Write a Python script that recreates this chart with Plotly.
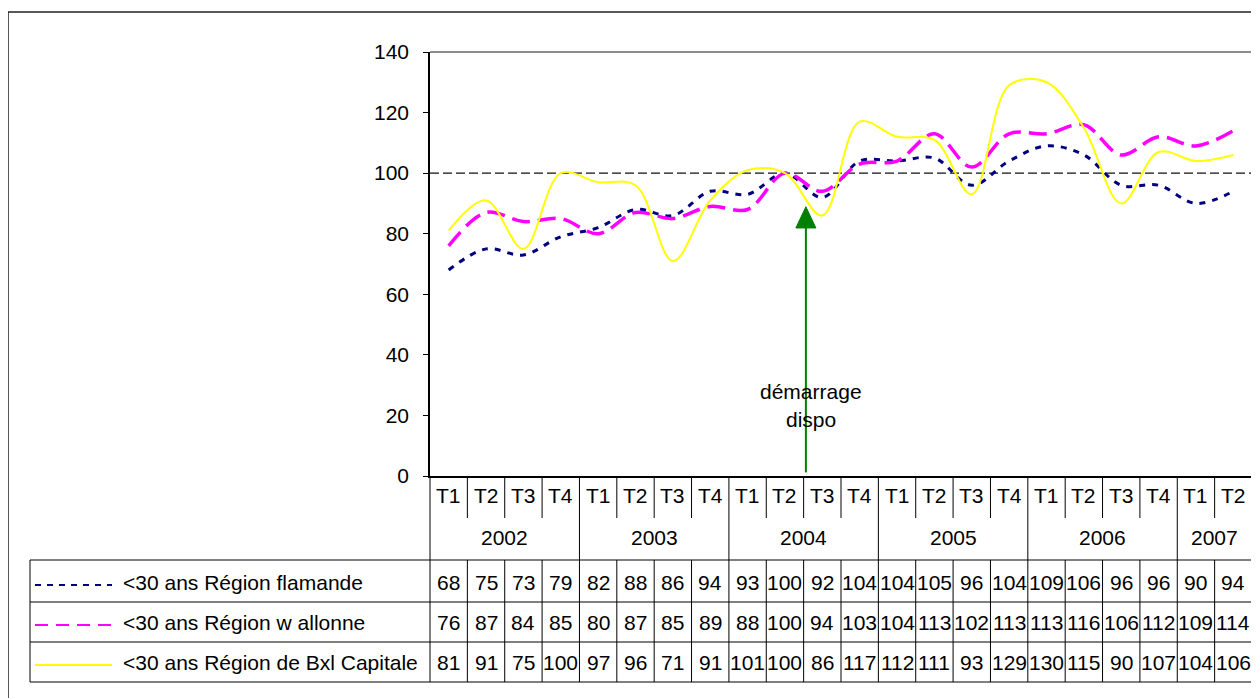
import plotly.graph_objects as go

quarters = ["T1", "T2", "T3", "T4"] * 5 + ["T1", "T2"]
years = ["2002", "2003", "2004", "2005", "2006", "2007"]
year_spans = [4, 4, 4, 4, 4, 2]

flamande = [68, 75, 73, 79, 82, 88, 86, 94, 93, 100, 92, 104, 104, 105, 96, 104, 109, 106, 96, 96, 90, 94]
wallonne = [76, 87, 84, 85, 80, 87, 85, 89, 88, 100, 94, 103, 104, 113, 102, 113, 113, 116, 106, 112, 109, 114]
bxl = [81, 91, 75, 100, 97, 96, 71, 91, 101, 100, 86, 117, 112, 111, 93, 129, 130, 115, 90, 107, 104, 106]

series_names = ["<30 ans Région flamande", "<30 ans Région w allonne", "<30 ans Région de Bxl Capitale"]
series_values = [flamande, wallonne, bxl]
series_colors = ["#000080", "#FF00FF", "#FFFF00"]
series_dash = ["6px,7px", "18px,8px", "solid"]
series_width = [3, 3.5, 2]
legend_dash = ["6px,6px", "13px,8px", "solid"]

reference_level = 100
annotation_text = ["démarrage", "dispo"]

# page coordinates (the html body adds an 8px margin)
OFF = 8
W, H = 1259 - OFF, 698 - OFF
L, R, T, B = 430, 1252, 52, 476
FONT = "Arial, Liberation Sans, sans-serif"
FS = 21
n = len(quarters)
xs = list(range(n))


def px(x):
    return (x - L) / (R - L)


def py(y):
    return (B - y) / (B - T)


fig = go.Figure()
for name, vals, col, dash, w in zip(series_names, series_values, series_colors, series_dash, series_width):
    fig.add_trace(go.Scatter(
        x=xs, y=vals, mode="lines", name=name,
        line=dict(color=col, dash=dash, width=w, shape="spline", smoothing=1.0),
        showlegend=False, hoverinfo="skip",
    ))

shapes = []
annotations = []

# reference line at 100
shapes.append(dict(type="line", xref="paper", yref="y", x0=0, x1=1, y0=reference_level, y1=reference_level,
                   layer="below", line=dict(color="#111111", width=1.3, dash="9px,4px")))
# plot border top/right (gray)
shapes.append(dict(type="line", xref="paper", yref="paper", x0=0, x1=1, y0=1, y1=1,
                   line=dict(color="#8c8c8c", width=2)))
shapes.append(dict(type="line", xref="paper", yref="paper", x0=1, x1=1, y0=0, y1=1,
                   line=dict(color="#8c8c8c", width=2)))
# outer frame
shapes.append(dict(type="rect", xref="paper", yref="paper", x0=px(8), x1=px(1275), y0=py(715), y1=py(12),
                   line=dict(color="#222222", width=1.5)))

# arrow (between T2 and T3 2004)
arrow_x = 9.56
shapes.append(dict(type="line", xref="x", yref="y", x0=arrow_x, x1=arrow_x, y0=1.2, y1=82,
                   line=dict(color="#008000", width=2)))
half = 10 / ((R - L) / n)
shapes.append(dict(type="path", xref="x", yref="y",
                   path=f"M {arrow_x - half},81.9 L {arrow_x + half},81.9 L {arrow_x},88.9 Z",
                   fillcolor="#008000", line=dict(color="#008000", width=1)))
for txt, yp in zip(annotation_text, [391.5, 419]):
    annotations.append(dict(text=txt, xref="x", yref="paper", x=arrow_x + 0.15, y=py(yp),
                            showarrow=False, xanchor="center", yanchor="middle",
                            font=dict(family=FONT, size=FS, color="black")))

# ---- data table ----
tbl_left = 30
row_lines = [560, 602, 642, 682]
col_w = (R - L) / n


def colx(i):
    return L + i * col_w


year_bounds = [0]
for s in year_spans:
    year_bounds.append(year_bounds[-1] + s)

line_style = dict(color="black", width=1)
for i in range(n + 1):
    x = colx(i)
    if i in year_bounds:
        shapes.append(dict(type="line", xref="paper", yref="paper", x0=px(x), x1=px(x), y0=py(476), y1=py(682),
                           line=line_style))
    else:
        shapes.append(dict(type="line", xref="paper", yref="paper", x0=px(x), x1=px(x), y0=py(476), y1=py(518),
                           line=line_style))
        shapes.append(dict(type="line", xref="paper", yref="paper", x0=px(x), x1=px(x), y0=py(560), y1=py(682),
                           line=line_style))
shapes.append(dict(type="line", xref="paper", yref="paper", x0=px(tbl_left), x1=px(tbl_left), y0=py(560), y1=py(682),
                   line=line_style))
for yl in row_lines:
    shapes.append(dict(type="line", xref="paper", yref="paper", x0=px(tbl_left), x1=1, y0=py(yl), y1=py(yl),
                       line=line_style))

for i, q in enumerate(quarters):
    annotations.append(dict(text=q, xref="x", yref="paper", x=i, y=py(495), showarrow=False,
                            xanchor="center", yanchor="middle", font=dict(family=FONT, size=FS, color="black")))
for k, yr in enumerate(years):
    c = (year_bounds[k] + year_bounds[k + 1] - 1) / 2
    annotations.append(dict(text=yr, xref="x", yref="paper", x=c, y=py(537), showarrow=False,
                            xanchor="center", yanchor="middle", font=dict(family=FONT, size=FS, color="black")))
row_centers = [582, 622, 662]
for r, (name, vals, col, ldash) in enumerate(zip(series_names, series_values, series_colors, legend_dash)):
    yc = row_centers[r]
    for i, v in enumerate(vals):
        annotations.append(dict(text=str(v), xref="x", yref="paper", x=i, y=py(yc), showarrow=False,
                                xanchor="center", yanchor="middle", font=dict(family=FONT, size=FS, color="black")))
    annotations.append(dict(text=name, xref="paper", yref="paper", x=px(121), y=py(yc), showarrow=False,
                            xanchor="left", yanchor="middle", font=dict(family=FONT, size=FS, color="black")))
    shapes.append(dict(type="line", xref="paper", yref="paper", x0=px(35), x1=px(112), y0=py(yc + 3), y1=py(yc + 3),
                       line=dict(color=col, width=2, dash=ldash)))

fig.update_layout(
    width=W, height=H,
    margin=dict(l=L - OFF, r=W - (R - OFF), t=T - OFF, b=H - (B - OFF), pad=0),
    paper_bgcolor="white", plot_bgcolor="white",
    showlegend=False,
    xaxis=dict(range=[-0.5, n - 0.5], showticklabels=False, ticks="", showgrid=False, zeroline=False,
               showline=True, linecolor="black", linewidth=1.5, fixedrange=True),
    yaxis=dict(range=[0, 140], dtick=20, tick0=0, ticks="outside", ticklen=5, tickcolor="black", tickwidth=1,
               showgrid=False, zeroline=False, showline=True, linecolor="black", linewidth=1.5,
               tickfont=dict(family=FONT, size=FS, color="black"), ticklabelstandoff=10, fixedrange=True),
    shapes=shapes, annotations=annotations,
)

fig.write_html("out.html")
